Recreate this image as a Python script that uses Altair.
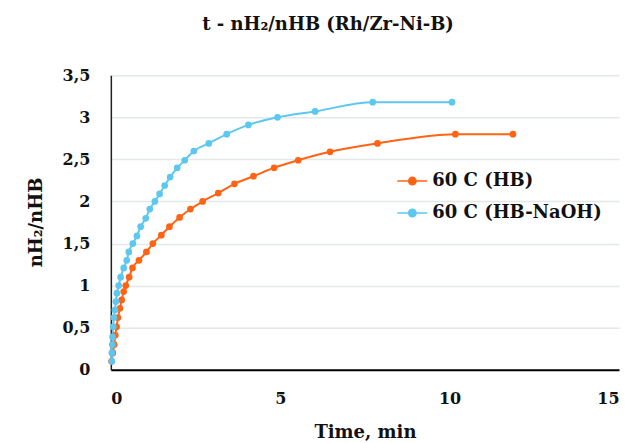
import altair as alt
import pandas as pd

series_names = ["60 C (HB)", "60 C (HB-NaOH)"]
series_colors = ["#FF6414", "#5CC8F0"]

hb_time = [0.02, 0.06, 0.10, 0.13, 0.17, 0.21, 0.27, 0.32, 0.38, 0.44, 0.54, 0.64, 0.83,
           1.05, 1.24, 1.49, 1.73, 2.03, 2.35, 2.71, 3.17, 3.65, 4.21, 4.82, 5.53, 6.47,
           7.87, 10.17, 11.87]
hb_ratio = [0.10, 0.20, 0.30, 0.41, 0.51, 0.62, 0.73, 0.83, 0.93, 1.00, 1.10, 1.21, 1.30,
            1.40, 1.50, 1.60, 1.70, 1.81, 1.91, 2.00, 2.10, 2.21, 2.30, 2.40, 2.49, 2.59,
            2.69, 2.80, 2.80]

naoh_time = [0.03, 0.03, 0.04, 0.05, 0.07, 0.09, 0.12, 0.15, 0.18, 0.23, 0.29, 0.38, 0.47,
             0.53, 0.65, 0.77, 0.88, 1.03, 1.15, 1.30, 1.44, 1.59, 1.75, 1.96, 2.18, 2.45,
             2.89, 3.42, 4.06, 4.92, 6.03, 7.73, 10.07]
naoh_ratio = [0.10, 0.20, 0.30, 0.39, 0.51, 0.62, 0.71, 0.81, 0.91, 1.00, 1.10, 1.21, 1.30,
              1.40, 1.50, 1.59, 1.70, 1.80, 1.91, 2.00, 2.09, 2.19, 2.29, 2.40, 2.49, 2.60,
              2.69, 2.80, 2.91, 3.00, 3.07, 3.18, 3.18]

x_ticks = [0, 5, 10, 15]
y_ticks = [0, 0.5, 1, 1.5, 2, 2.5, 3, 3.5]

df = pd.concat([
    pd.DataFrame({"time": hb_time, "ratio": hb_ratio, "series": series_names[0]}),
    pd.DataFrame({"time": naoh_time, "ratio": naoh_ratio, "series": series_names[1]}),
], ignore_index=True)

FONT = "DejaVu Serif"

legend_symbol = ("M-1,0L1,0M-0.25,0A0.25,0.25,0,1,1,0.25,0"
                 "A0.25,0.25,0,1,1,-0.25,0Z")


def make_legend():
    return alt.Legend(
        title=None,
        orient="none",
        legendX=286,
        legendY=90,
        symbolType=legend_symbol,
        symbolSize=900,
        symbolStrokeWidth=1.5,
        symbolOpacity=1,
        labelFont=FONT,
        labelFontSize=18,
        labelFontWeight="bold",
        labelColor="#111111",
        labelOffset=4,
        labelLimit=400,
    )


series_scale = alt.Scale(domain=series_names, range=series_colors)

x_enc = alt.X(
    "time:Q",
    scale=alt.Scale(domain=[0, 15], nice=False, zero=True),
    axis=alt.Axis(
        title="Time, min",
        values=x_ticks,
        grid=False,
        ticks=False,
        domainColor="#000000",
        domainWidth=2,
        labelPadding=21,
        labelFont=FONT,
        labelFontSize=16,
        labelFontWeight="bold",
        labelColor="#111111",
        titleFont=FONT,
        titleFontSize=18,
        titleFontWeight="bold",
        titleColor="#111111",
        titleBaseline="middle",
        titleY=63,
    ),
)

y_enc = alt.Y(
    "ratio:Q",
    scale=alt.Scale(domain=[0, 3.5], nice=False),
    axis=alt.Axis(
        title="nH₂/nHB",
        values=y_ticks,
        labelExpr="replace(toString(datum.value), '.', ',')",
        grid=True,
        gridColor="#E3E8E8",
        gridWidth=1.5,
        ticks=False,
        domainColor="#222222",
        domainWidth=1.5,
        labelPadding=21,
        labelFont=FONT,
        labelFontSize=16,
        labelFontWeight="bold",
        labelColor="#111111",
        titleFont=FONT,
        titleFontSize=18,
        titleFontWeight="bold",
        titleColor="#111111",
        titleAngle=270,
        titleAlign="center",
        titleBaseline="middle",
        titleX=-74,
        titleY=147,
    ),
)

base = alt.Chart(df).encode(x=x_enc, y=y_enc)

lines = base.mark_line(interpolate="monotone", strokeWidth=2).encode(
    stroke=alt.Stroke("series:N", scale=series_scale, legend=make_legend())
)
points = base.mark_circle(size=45, opacity=1).encode(
    fill=alt.Fill("series:N", scale=series_scale, legend=make_legend())
)

chart = alt.layer(lines, points).properties(
    width=509,
    height=295,
    title=alt.TitleParams(
        "t - nH₂/nHB (Rh/Zr-Ni-B)",
        font=FONT,
        fontSize=18,
        fontWeight="bold",
        color="#111111",
        anchor="middle",
        dx=-37,
        offset=33,
    ),
    autosize=alt.AutoSizeParams(type="none"),
    padding={"left": 103, "top": 67, "right": 10, "bottom": 73},
).configure_view(stroke=None).configure_legend(padding=0, rowPadding=7)

chart.save("out.html", embed_options={"renderer": "svg", "actions": False})
